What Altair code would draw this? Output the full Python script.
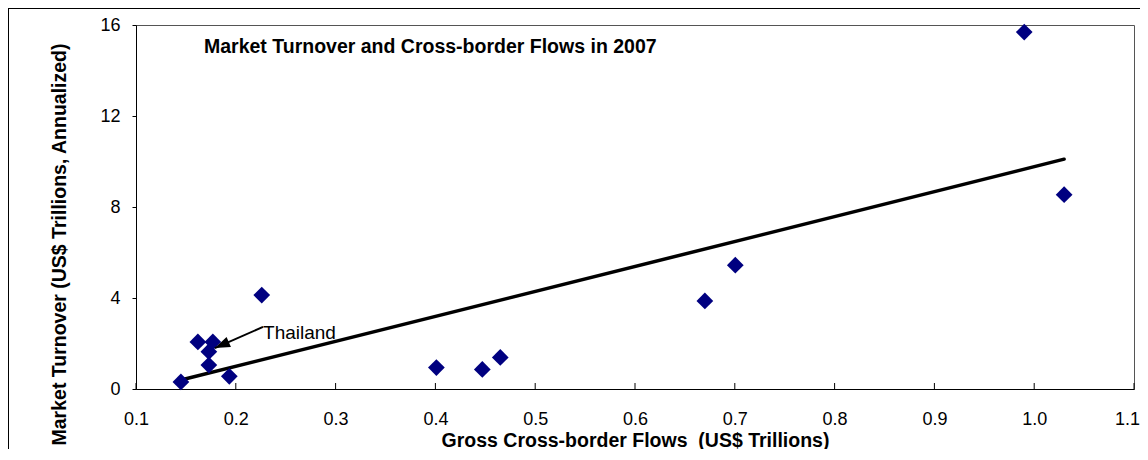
import math
import altair as alt
import pandas as pd

# ---- data ----
gross_flows = [0.145, 0.162, 0.177, 0.173, 0.173, 0.1935, 0.226, 0.401, 0.447, 0.465, 0.670, 0.7005, 0.990, 1.030]
turnover = [0.31, 2.07, 2.07, 1.64, 1.05, 0.56, 4.13, 0.94, 0.86, 1.39, 3.87, 5.44, 15.69, 8.54]

x_ticks = [0.1, 0.2, 0.3, 0.4, 0.5, 0.6, 0.7, 0.8, 0.9, 1.0, 1.1]
y_ticks = [0, 4, 8, 12, 16]

chart_title = "Market Turnover and Cross-border Flows in 2007"
x_title = "Gross Cross-border Flows \u00a0(US$ Trillions)"
y_title = "Market Turnover (US$ Trillions, Annualized)"

annot_label = ["Thailand"]
annot_text_x = [0.2273]
annot_text_y = [2.2]
arrow_from_x = [0.2273]
arrow_from_y = [2.73]
arrow_to_x = [0.179]
arrow_to_y = [1.80]

# ---- layout ----
W, H = 998, 364
PAD = {"left": 128, "top": 17, "right": 6, "bottom": 60}
X_DOM = [0.1, 1.1]
Y_DOM = [0, 16]
FONT = "Liberation Sans"

pts = pd.DataFrame({"flows": gross_flows, "turnover": turnover})
ticks = pd.DataFrame({"flows": x_ticks})
lbl = pd.DataFrame({"flows": annot_text_x, "turnover": annot_text_y, "label": annot_label})

# arrowhead angle in screen space
dxp = (arrow_to_x[0] - arrow_from_x[0]) / (X_DOM[1] - X_DOM[0]) * W
dyp = -(arrow_to_y[0] - arrow_from_y[0]) / (Y_DOM[1] - Y_DOM[0]) * H
ang = math.degrees(math.atan2(dxp, -dyp)) % 360
arrow = pd.DataFrame({"flows": arrow_from_x, "turnover": arrow_from_y,
                      "flows2": arrow_to_x, "turnover2": arrow_to_y})
head = pd.DataFrame({"flows": arrow_to_x, "turnover": arrow_to_y})

xscale = alt.Scale(domain=X_DOM, nice=False, zero=False)
yscale = alt.Scale(domain=Y_DOM, nice=False, zero=False)
xaxis = alt.Axis(values=x_ticks, format=".1f", tickSize=0, labelPadding=21,
                 labelFlush=False, labelOverlap=False,
                 labelOffset={"condition": {"test": f"datum.value >= {X_DOM[1]}", "value": -7}, "value": 0},
                 titlePadding=3, grid=False, domainColor="black",
                 labelFontSize=18, titleFontSize=19.5, titleFontWeight="bold",
                 labelColor="black", titleColor="black", labelFont=FONT, titleFont=FONT)
yaxis = alt.Axis(values=y_ticks, tickSize=4, labelPadding=12, titlePadding=30,
                 titleY=219, labelFlush=False, labelOverlap=False,
                 grid=False, domainColor="black", tickColor="black",
                 labelFontSize=18, titleFontSize=19.5, titleFontWeight="bold",
                 labelColor="black", titleColor="black", labelFont=FONT, titleFont=FONT)


def X(f="flows"):
    return alt.X(f"{f}:Q", scale=xscale, axis=xaxis, title=x_title)


def Y(f="turnover"):
    return alt.Y(f"{f}:Q", scale=yscale, axis=yaxis, title=y_title)


base = alt.Chart(pts)

# outer chart frame (top and left edges; the others fall outside the picture)
fl = -PAD["left"] + 0.5
ft = -PAD["top"] + 0.5
frame_top = alt.Chart(pts).mark_rule(color="black", strokeWidth=1).encode(
    x=alt.value(fl), x2=alt.value(W + PAD["right"]), y=alt.value(ft)
)
frame_left = alt.Chart(pts).mark_rule(color="black", strokeWidth=1).encode(
    x=alt.value(fl), y=alt.value(ft), y2=alt.value(H + PAD["bottom"])
)

points = base.mark_point(shape="diamond", filled=True, size=280, color="#000080", opacity=1).encode(
    x=X(), y=Y()
)

fit = base.transform_regression("flows", "turnover").mark_line(
    color="black", strokeWidth=3.5, strokeCap="round"
).encode(x=X(), y=Y())

xt = alt.Chart(ticks).mark_rule(color="black", strokeWidth=1).encode(
    x=X(), y=alt.value(H), y2=alt.value(H - 6)
)

arrow_line = alt.Chart(arrow).mark_rule(color="black", strokeWidth=2).encode(
    x=X(), y=Y(), x2="flows2:Q", y2="turnover2:Q"
)

arrow_head = alt.Chart(head).mark_point(
    shape="M0,0L-0.75,2.1L0.75,2.1Z", filled=True, color="black", size=210, angle=ang, opacity=1
).encode(x=X(), y=Y())

label = alt.Chart(lbl).mark_text(
    align="left", baseline="alphabetic", fontSize=19, font=FONT, color="black"
).encode(x=X(), y=Y(), text="label:N")

title = alt.Chart(pd.DataFrame({"t": [chart_title]})).mark_text(
    align="left", baseline="alphabetic", fontSize=19.5, fontWeight="bold", font=FONT, color="black"
).encode(x=alt.value(68), y=alt.value(28), text="t:N")

chart = alt.layer(frame_top, frame_left, fit, points, xt, arrow_line, arrow_head, label, title).properties(
    width=W, height=H,
    padding=PAD,
    autosize=alt.AutoSizeParams(type="none"),
    background="white",
).configure_view(stroke="#555555", strokeWidth=1)

chart.save("out.html", embed_options={"renderer": "svg", "actions": False})
